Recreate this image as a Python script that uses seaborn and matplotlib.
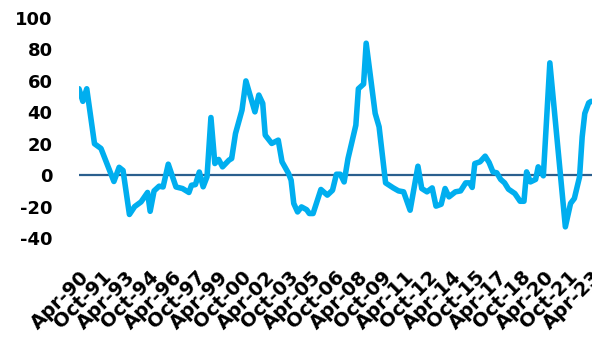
import matplotlib
matplotlib.use("Agg")
import matplotlib.pyplot as plt
import pandas as pd
import seaborn as sns

# Turning points of the series (month, value)
dates = [
    "1990-04", "1990-07", "1990-10", "1991-04", "1991-09", "1992-07", "1992-11", "1993-02",
    "1993-07", "1993-11", "1994-04", "1994-09", "1994-11", "1995-02", "1995-06", "1995-09",
    "1996-01", "1996-07", "1996-12", "1997-05", "1997-07", "1997-10", "1998-01", "1998-04",
    "1998-07", "1998-10", "1999-01", "1999-04", "1999-07", "1999-12", "2000-02", "2000-05",
    "2000-10", "2001-01", "2001-08", "2001-11", "2002-02", "2002-04", "2002-09", "2003-02",
    "2003-05", "2003-10", "2003-12", "2004-02", "2004-05", "2004-08", "2004-12", "2005-02",
    "2005-05", "2005-11", "2006-04", "2006-08", "2006-11", "2007-02", "2007-05", "2007-08",
    "2008-02", "2008-04", "2008-08", "2008-10", "2009-05", "2009-08", "2010-01", "2010-07",
    "2010-11", "2011-03", "2011-08", "2012-02", "2012-05", "2012-09", "2013-01", "2013-04",
    "2013-08", "2013-11", "2014-02", "2014-07", "2014-11", "2015-03", "2015-06", "2015-08",
    "2015-10", "2016-02", "2016-06", "2016-09", "2016-12", "2017-03", "2017-06", "2017-09",
    "2017-12", "2018-05", "2018-09", "2018-12", "2019-02", "2019-05", "2019-09", "2019-11",
    "2020-03", "2020-08", "2021-08", "2021-12", "2022-03", "2022-07", "2022-09", "2022-11",
    "2023-02", "2023-04",
]
values = [
    55, 47, 55, 20, 17, -4, 5, 3,
    -25, -20, -17, -11, -23, -10, -7, -7.5,
    7, -7.5, -8.5, -11, -6.4, -6, 2, -7.4,
    -1, 36.7, 7.4, 10, 5.3, 9.6, 10.6, 26.5,
    41.4, 60, 40.3, 51, 45.7, 25.5, 20.2, 22.3,
    8.5, 1.1, -3.2, -18, -23.4, -20.2, -22, -24.4,
    -24.4, -9.1, -12.7, -9.6, 0.6, 0.6, -4.3, 10.6,
    31.8, 55, 58, 84, 39.3, 30.8, -4.9, -8.1,
    -10, -10.6, -22.3, 5.7, -8.5, -10.6, -8.1, -19.7,
    -18.5, -8.5, -13.8, -10.6, -10, -4.9, -4.9, -7.8,
    7.4, 8.5, 12.1, 8.1, 2.1, 1.5, -2.7, -4.9,
    -8.9, -11.7, -16.6, -16.6, 2.1, -4.3, -2.7, 5.3,
    -0.4, 71.5, -32.9, -18, -14.8, -1.1, 24.4, 39.3,
    46, 47,
]

# Axis labels every 18 months
tick_dates = pd.date_range("1990-04-01", "2023-04-01", freq="18MS")
y_ticks = [-40, -20, 0, 20, 40, 60, 80, 100]

df = pd.DataFrame({"date": pd.to_datetime(dates), "value": values})

sns.set_theme(style="white")
plt.rcParams["font.family"] = ["DejaVu Sans"]
plt.rcParams["text.color"] = "black"
plt.rcParams["xtick.color"] = "black"
plt.rcParams["ytick.color"] = "black"

fig = plt.figure(figsize=(5.92, 3.41), dpi=100)
ax = fig.add_axes([0.1334, 0.302, 0.8666, 0.645])

ax.axhline(0, color="#2B5F8E", linewidth=1.6, zorder=1)
sns.lineplot(data=df, x="date", y="value", ax=ax, color="#00AEEF",
             linewidth=4.0, solid_joinstyle="round", solid_capstyle="round", zorder=2)

ax.set_xlim(pd.Timestamp("1990-04-01"), pd.Timestamp("2023-04-20"))
ax.set_ylim(-40, 100)
ax.set_yticks(y_ticks)
ax.set_yticklabels([str(v) for v in y_ticks], fontsize=13, fontweight="bold",
                   color="black")
ax.set_xticks(tick_dates)
ax.set_xticklabels([d.strftime("%b-%y") for d in tick_dates], rotation=45,
                   ha="right", rotation_mode="anchor", fontsize=14,
                   fontweight="bold", color="black")
ax.tick_params(axis="y", length=0, pad=19)
ax.tick_params(axis="x", length=0, pad=21)
ax.set_xlabel("")
ax.set_ylabel("")
for s in ax.spines.values():
    s.set_visible(False)

fig.savefig("out.png", dpi=100)
